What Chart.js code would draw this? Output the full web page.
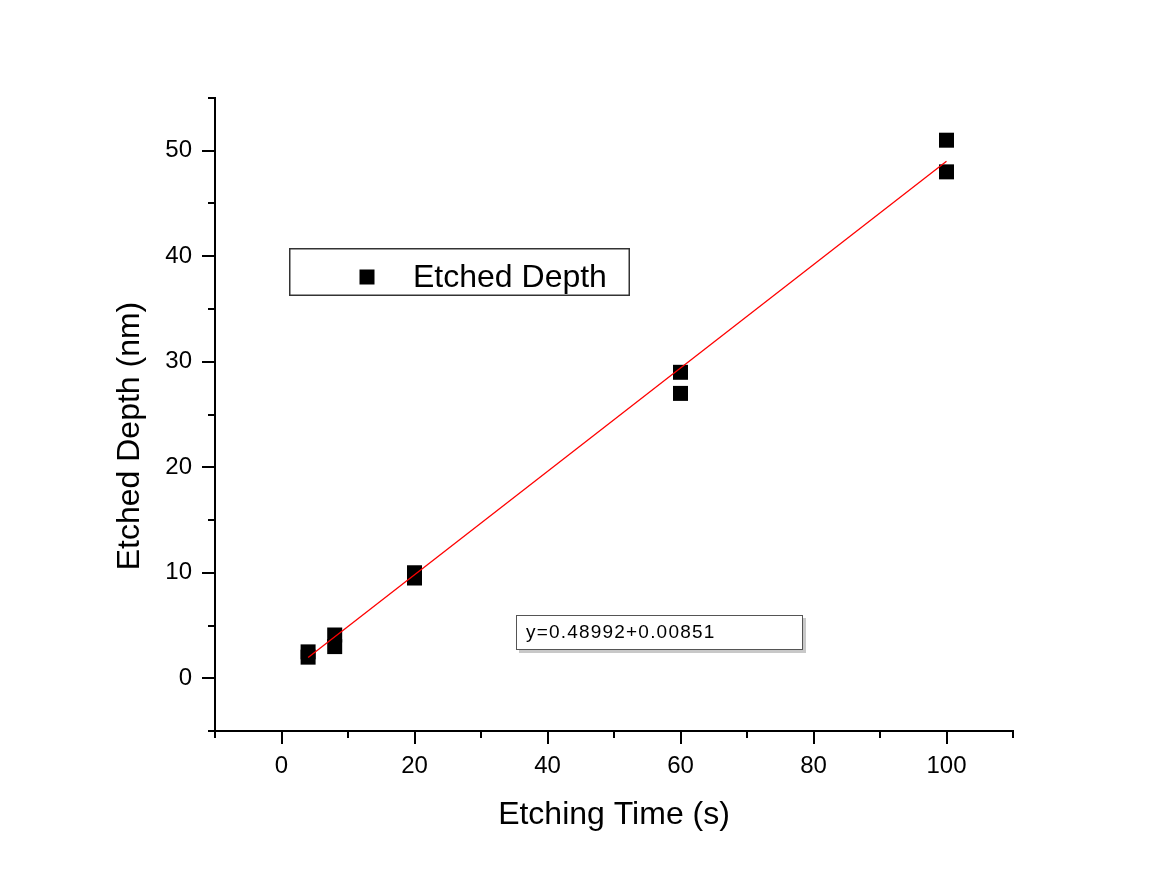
<!DOCTYPE html>
<html>
<head>
<meta charset="utf-8">
<script src="https://cdn.jsdelivr.net/npm/chart.js@4"></script>
<style>
  html, body { margin: 0; padding: 0; background: #ffffff; }
  #wrap { width: 1168px; height: 873px; position: relative; }
</style>
</head>
<body>
<div id="wrap"><canvas id="c" width="1168" height="873"></canvas></div>
<script>
// ---- data ----
const timeX   = [4, 4, 8, 8, 20, 20, 60, 60, 100, 100];
const depthY  = [2.0, 2.5, 3.0, 4.1, 9.5, 10.0, 27.0, 29.0, 48.0, 51.0];
const fitX    = [4, 100];
const fitY    = [1.97, 49.0];
const xTickLabels = [0, 20, 40, 60, 80, 100];
const yTickLabels = [0, 10, 20, 30, 40, 50];
const seriesLabel  = 'Etched Depth';
const xTitle       = 'Etching Time (s)';
const yTitle       = 'Etched Depth (nm)';
const equationText = 'y=0.48992+0.00851';

const FONT = "'Liberation Sans', Arial, sans-serif";

const tickPlugin = {
  id: 'originTicks',
  afterDraw(chart) {
    const ctx = chart.ctx;
    const ca = chart.chartArea;
    const xs = chart.scales.x, ys = chart.scales.y;
    ctx.save();
    ctx.strokeStyle = '#000';
    ctx.lineWidth = 2;
    ctx.beginPath();
    xs.ticks.forEach(t => {
      const px = Math.round(xs.getPixelForValue(t.value));
      const len = xTickLabels.includes(t.value) ? 13 : 7;
      ctx.moveTo(px, ca.bottom);
      ctx.lineTo(px, ca.bottom + len);
    });
    ys.ticks.forEach(t => {
      const py = Math.round(ys.getPixelForValue(t.value));
      const len = yTickLabels.includes(t.value) ? 13 : 7;
      ctx.moveTo(ca.left, py);
      ctx.lineTo(ca.left - len, py);
    });
    ctx.stroke();

    // y axis title
    ctx.fillStyle = '#000';
    ctx.font = '32px ' + FONT;
    ctx.textAlign = 'center';
    ctx.textBaseline = 'middle';
    ctx.translate(130, 436);
    ctx.rotate(-Math.PI / 2);
    ctx.fillText(yTitle, 0, 0);
    ctx.restore();

    // legend box
    ctx.save();
    ctx.strokeStyle = '#333';
    ctx.lineWidth = 1.5;
    ctx.strokeRect(289.75, 248.75, 339.5, 46.5);
    const ds = chart.data.datasets[1];
    ctx.fillStyle = ds.backgroundColor;
    ctx.fillRect(359.5, 269.5, 15, 15);
    ctx.fillStyle = '#000';
    ctx.font = '32px ' + FONT;
    ctx.textAlign = 'left';
    ctx.textBaseline = 'alphabetic';
    ctx.fillText(ds.label, 413, 287);
    ctx.restore();

    // equation box
    ctx.save();
    ctx.fillStyle = '#c8c8c8';
    ctx.fillRect(519, 618, 287, 35);
    ctx.fillStyle = '#fff';
    ctx.fillRect(516.5, 615.5, 286, 34);
    ctx.strokeStyle = '#555';
    ctx.lineWidth = 1;
    ctx.strokeRect(516.5, 615.5, 286, 34);
    ctx.fillStyle = '#000';
    ctx.font = '19px ' + FONT;
    ctx.letterSpacing = '1.2px';
    ctx.textAlign = 'left';
    ctx.textBaseline = 'alphabetic';
    ctx.fillText(equationText, 526, 638);
    ctx.restore();
  }
};

new Chart(document.getElementById('c'), {
  type: 'scatter',
  data: {
    datasets: [
      {
        label: 'Linear Fit',
        type: 'line',
        data: fitX.map((x, i) => ({ x: x, y: fitY[i] })),
        borderColor: '#ff0000',
        borderWidth: 1.3,
        pointRadius: 0,
        fill: false,
        order: 0
      },
      {
        label: seriesLabel,
        data: timeX.map((x, i) => ({ x: x, y: depthY[i] })),
        pointStyle: 'rect',
        pointRadius: 10.6,
        pointHoverRadius: 10.6,
        backgroundColor: '#000000',
        borderColor: '#000000',
        borderWidth: 0,
        order: 1
      }
    ]
  },
  options: {
    responsive: false,
    animation: false,
    devicePixelRatio: 1,
    layout: { padding: { left: 0, top: 98, right: 155, bottom: 0 } },
    plugins: { legend: { display: false }, tooltip: { enabled: false } },
    scales: {
      x: {
        type: 'linear',
        min: -10, max: 110,
        afterFit: s => { s.height = 142; },
        ticks: {
          stepSize: 10, autoSkip: false, maxRotation: 0,
          padding: 8,
          color: '#000',
          font: { family: FONT, size: 24 },
          callback: v => xTickLabels.includes(v) ? String(v) : ''
        },
        grid: { display: true, drawOnChartArea: false, drawTicks: true, tickLength: 13, tickColor: 'rgba(0,0,0,0)' },
        border: { display: true, color: '#000', width: 2 },
        title: {
          display: true, text: xTitle, color: '#000',
          font: { family: FONT, size: 32 },
          padding: { top: 0, bottom: 39 }
        }
      },
      y: {
        type: 'linear',
        min: -5, max: 55,
        afterFit: s => { s.width = 215; },
        ticks: {
          stepSize: 5, autoSkip: false,
          padding: 10,
          color: '#000',
          font: { family: FONT, size: 24 },
          callback: v => yTickLabels.includes(v) ? String(v) : ''
        },
        grid: { display: true, drawOnChartArea: false, drawTicks: true, tickLength: 13, tickColor: 'rgba(0,0,0,0)' },
        border: { display: true, color: '#000', width: 2 }
      }
    }
  },
  plugins: [tickPlugin]
});
</script>
</body>
</html>
